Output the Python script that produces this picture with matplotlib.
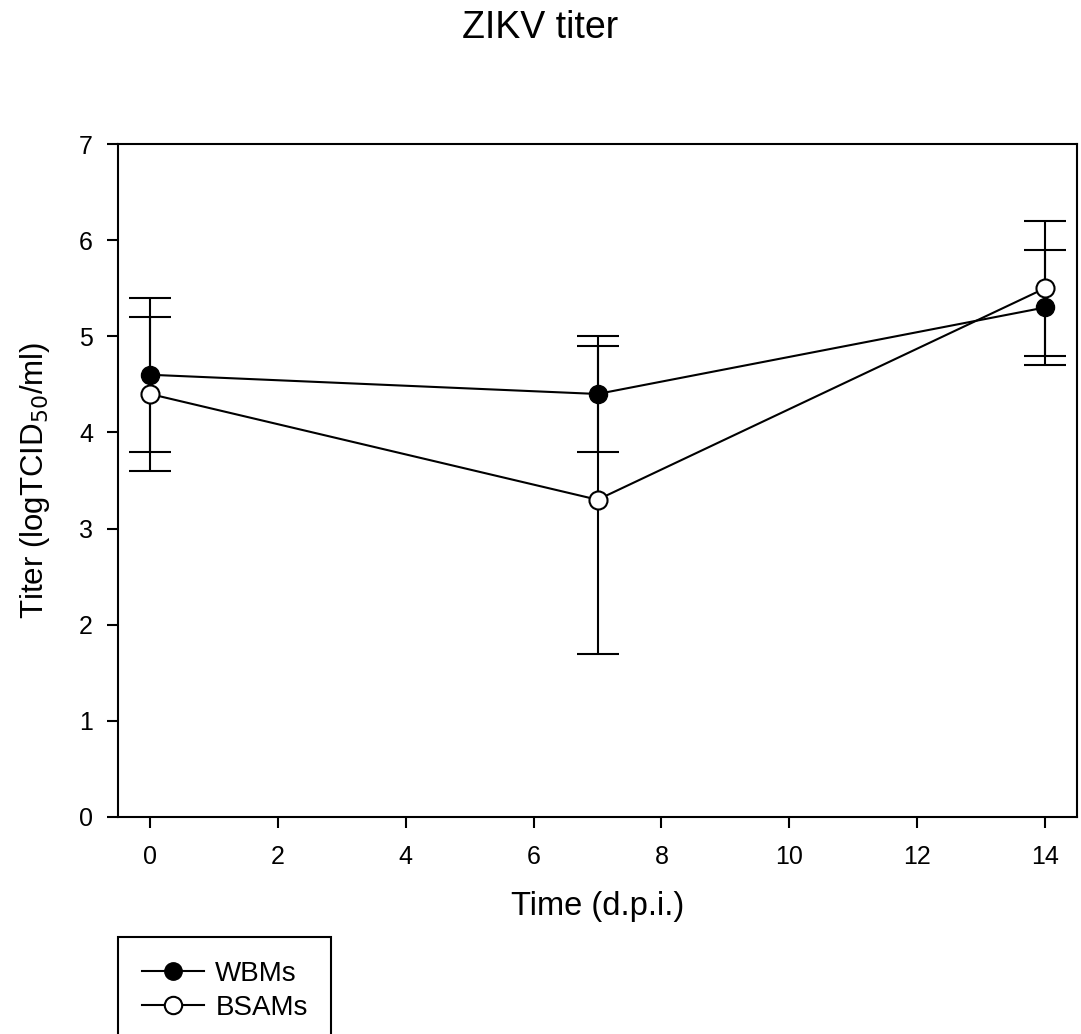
import numpy as np
import matplotlib
matplotlib.use("Agg")
import matplotlib.pyplot as plt
from matplotlib.lines import Line2D

plt.rcParams['font.family'] = ['Liberation Sans', 'DejaVu Sans']

days = [0, 7, 14]
wbms = [4.6, 4.4, 5.3]
wbms_err = [0.8, 0.6, 0.6]
bsams = [4.4, 3.3, 5.5]
bsams_err = [0.8, 1.6, 0.7]

fig = plt.figure(figsize=(10.81, 10.34), dpi=100)
ax = fig.add_axes([0.1092, 0.2099, 0.8871, 0.6508])

ax.errorbar(days, wbms, yerr=wbms_err, color='black', lw=1.5, marker='o',
            markersize=13, markerfacecolor='black', markeredgecolor='black',
            capsize=15, elinewidth=1.5, capthick=1.5, zorder=3)
ax.errorbar(days, bsams, yerr=bsams_err, color='black', lw=1.5, marker='o',
            markersize=13, markerfacecolor='white', markeredgecolor='black',
            markeredgewidth=1.5, capsize=15, elinewidth=1.5, capthick=1.5,
            zorder=4)

ax.set_xlim(-0.5, 14.5)
ax.set_ylim(0, 7)
ax.set_xticks(range(0, 15, 2))
ax.set_yticks(range(0, 8))
ax.tick_params(direction='out', length=8, width=1.5, labelsize=18)
ax.tick_params(axis='x', pad=12)
ax.tick_params(axis='y', pad=10)
for s in ax.spines.values():
    s.set_linewidth(1.5)

ax.set_xlabel('Time (d.p.i.)', fontsize=23.5)
ax.set_ylabel('Titer (logTCID$_{50}$/ml)', fontsize=22.5)
ax.xaxis.set_label_coords(0.5, -0.110)
ax.yaxis.set_label_coords(-0.069, 0.5)
fig.text(0.5, 0.973, 'ZIKV titer', ha='center', va='center', fontsize=27)

handles = [
    Line2D([], [], color='black', lw=1.5, marker='o', markersize=12.5,
           markerfacecolor='black', markeredgecolor='black'),
    Line2D([], [], color='black', lw=1.5, marker='o', markersize=12.5,
           markerfacecolor='white', markeredgecolor='black', markeredgewidth=1.5),
]
leg = fig.legend(handles, ['WBMs', 'BSAMs'], loc='upper left',
                 bbox_to_anchor=(0.1092, 1 - 937 / 1034),
                 fontsize=20, frameon=True, fancybox=False, edgecolor='black',
                 framealpha=1, handlelength=2.25, borderpad=0.85,
                 labelspacing=0.3, handletextpad=0.4, borderaxespad=0)
leg.get_frame().set_linewidth(1.5)

fig.savefig('out.png', dpi=100)
